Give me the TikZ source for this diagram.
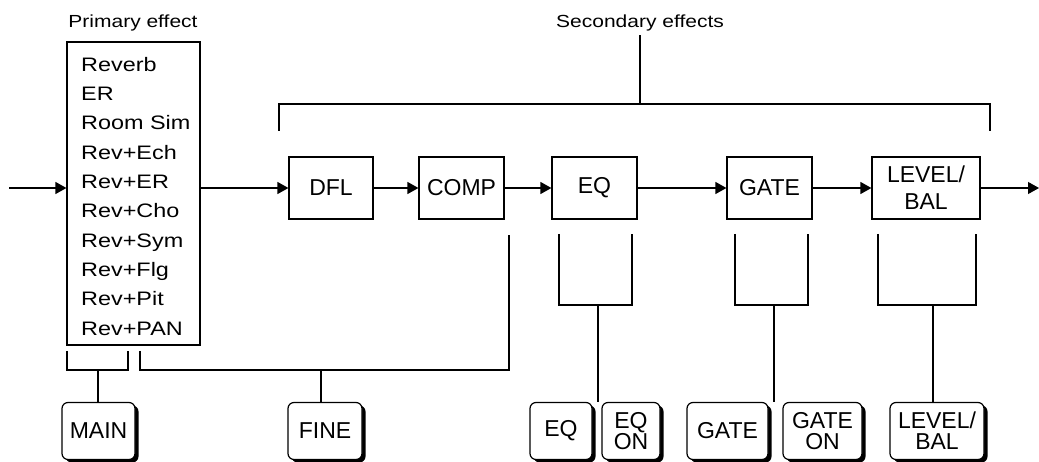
\documentclass[tikz,border=0pt]{standalone}
\usepackage{fontspec}
\setmainfont{Liberation Sans}
\newfontfamily\widesans{Liberation Sans}[FakeStretch=1.2]
\usetikzlibrary{arrows.meta,calc,positioning,shadows}
\tikzset{
  flowarrow/.style={-{Triangle[length=11pt,width=12pt]},line width=1.2pt},
  brack/.style={line width=1.2pt},
  fxbox/.style={draw,line width=1.2pt,minimum height=62pt,inner sep=0pt,align=center,
    font=\fontsize{23}{27}\selectfont},
  keybtn/.style={draw,line width=1.2pt,rounded corners=6pt,fill=white,minimum height=57pt,inner sep=0pt,
    align=center,drop shadow={shadow xshift=3.5pt,shadow yshift=-3pt,fill=black,opacity=1},
    font=\fontsize{23}{21}\selectfont},
  caption/.style={font=\widesans\fontsize{17.5}{20}\selectfont},
}
\begin{document}
\begin{tikzpicture}[x=1pt,y=-1pt]
    \useasboundingbox (0,0) rectangle (1039,462);
    \node[caption] (primlbl) at (133,23) {Primary effect};
    \node[caption] (seclbl) at (640,23) {Secondary effects};

    % primary effect list
    \node[draw,line width=1.2pt,minimum width=133pt,minimum height=303pt,inner sep=0pt] (prim) at (133.5,193.5) {};
    \node[anchor=north west,align=left,inner sep=0pt,font=\widesans\fontsize{19.5}{29.3}\selectfont] (primlist) at (81,57)
      {Reverb\\ER\\Room Sim\\Rev+Ech\\Rev+ER\\Rev+Cho\\Rev+Sym\\Rev+Flg\\Rev+Pit\\Rev+PAN};

    % secondary effect chain
    \node[fxbox,minimum width=84pt] (dfl) at (331,188) {DFL};
    \node[fxbox,minimum width=85pt] (comp) at (461.5,188) {COMP};
    \node[fxbox,minimum width=85pt] (eq) at (594.5,188) {EQ};
    \node[fxbox,minimum width=85pt] (gate) at (769.5,188) {GATE};
    \node[fxbox,minimum width=108pt] (level) at (926,188) {LEVEL/\\BAL};

    \coordinate (in) at (9,188);
    \coordinate (out) at (1039,188);
    \draw[flowarrow] (in) -- (in -| prim.west);
    \draw[flowarrow] (prim.east |- dfl) -- (dfl);
    \draw[flowarrow] (dfl) -- (comp);
    \draw[flowarrow] (comp) -- (eq);
    \draw[flowarrow] (eq) -- (gate);
    \draw[flowarrow] (gate) -- (level);
    \draw[flowarrow] (level) -- (out);

    % bracket over the secondary effects
    \coordinate (sectop) at (640,104);
    \draw[brack] (279,131) -- (279,104) -- (990,104) -- (990,131);
    \draw[brack] (sectop) -- (seclbl);

    % keys
    \node[keybtn,minimum width=73pt] (mainkey) at (98.5,431) {MAIN};
    \node[keybtn,minimum width=74pt] (finekey) at (325,431) {FINE};
    \node[keybtn,minimum width=62pt] (eqkey) at (561,431) {EQ};
    \node[keybtn,minimum width=58pt] (eqonkey) at (631,431) {EQ\\ON};
    \node[keybtn,minimum width=81pt] (gatekey) at (727.5,431) {GATE};
    \node[keybtn,minimum width=79pt] (gateonkey) at (822.5,431) {GATE\\ON};
    \node[keybtn,minimum width=94pt] (levelkey) at (937,431) {LEVEL/\\BAL};

    % brackets down to the keys
    \coordinate (mainjoin) at (98,370);
    \coordinate (finejoin) at (321,370);
    \coordinate (eqjoin) at (598,305);
    \coordinate (gatejoin) at (774,305);
    \coordinate (leveljoin) at (933,305);
    \draw[brack] (67,351) -- (67,370) -- (128,370) -- (128,351);
    \draw[brack] (140,351) -- (140,370) -- (509,370) -- (509,235);
    \draw[brack] (559,234) -- (559,305) -- (632,305) -- (632,234);
    \draw[brack] (735,234) -- (735,305) -- (808,305) -- (808,234);
    \draw[brack] (878,234) -- (878,305) -- (976,305) -- (976,234);
    \draw[brack] (mainjoin) -- (mainjoin |- mainkey.north);
    \draw[brack] (finejoin) -- (finejoin |- finekey.north);
    \draw[brack] (eqjoin) -- (eqjoin |- eqkey.north);
    \draw[brack] (gatejoin) -- (gatejoin |- gatekey.north);
    \draw[brack] (leveljoin) -- (leveljoin |- levelkey.north);
\end{tikzpicture}
\end{document}
